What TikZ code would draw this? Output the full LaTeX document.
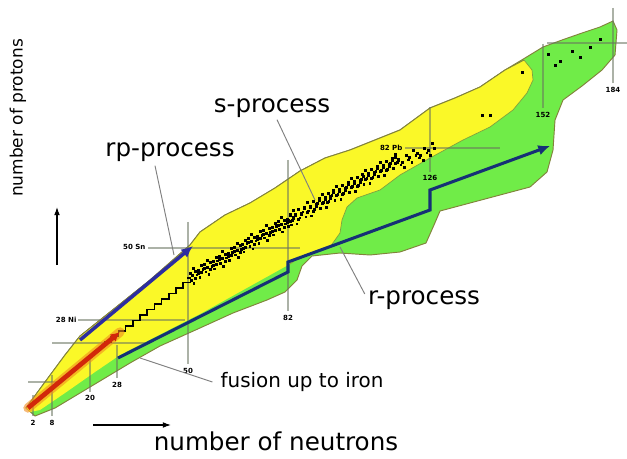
\documentclass[tikz,border=0pt]{standalone}
\usepackage{fontspec}
\setmainfont{DejaVu Sans}
\usetikzlibrary{calc,arrows.meta}
\definecolor{bandyellow}{RGB}{250,248,40}
\definecolor{bandgreen}{RGB}{112,236,72}
\definecolor{rimolive}{RGB}{130,130,60}
\definecolor{pathblue}{RGB}{22,48,118}
\definecolor{rpblue}{RGB}{45,45,160}
\definecolor{fusionred}{RGB}{210,40,10}
\definecolor{fusionglow}{RGB}{240,140,30}
\definecolor{gridgray}{RGB}{105,115,95}
\begin{document}
\begin{tikzpicture}[x=0.03cm,y=-0.03cm,
  biglabel/.style={font=\fontsize{21}{24}\selectfont, inner sep=0},
  smalllabel/.style={font=\fontsize{17}{20}\selectfont, inner sep=0},
  axislabel/.style={font=\fontsize{14.5}{17}\selectfont, inner sep=0},
  magic/.style={font=\bfseries\fontsize{6}{7}\selectfont, inner sep=0.3pt},
  gridline/.style={gridgray, line width=2.4, opacity=0.55},
  leader/.style={gray, line width=0.8},
  axisarrow/.style={black, line width=1, -{Latex[length=7pt,width=5pt]}}]
\useasboundingbox (0,0) rectangle (627,459);
\fill[white] (0,0) rectangle (627,459);

% outer band (green)
\filldraw[fill=bandgreen, draw=rimolive, line width=0.8]
 (26,408) -- (45,382) -- (65,355) -- (80,336) -- (150,280) -- (190,245) -- (200,232)
 -- (225,215) -- (250,203) -- (275,188) -- (300,171) -- (325,158) -- (350,150)
 -- (375,140) -- (400,130) -- (430,108) -- (455,98) -- (480,87) -- (505,70)
 -- (525,58) -- (543,47) -- (562,40) -- (582,33) -- (600,27) -- (613,21)
 -- (617,30) -- (615,55) -- (602,70) -- (582,86) -- (563,100) -- (555,120)
 -- (553,150) -- (547,172) -- (530,187) -- (500,195) -- (470,203) -- (440,211)
 -- (434,225) -- (426,243) -- (400,252) -- (370,255) -- (340,253) -- (312,256)
 -- (302,266) -- (297,280) -- (285,292) -- (267,300) -- (233,313) -- (200,328)
 -- (160,346) -- (130,363) -- (105,378) -- (80,393) -- (55,408) -- (35,416) -- cycle;

% yellow band
\fill[bandyellow]
 (26,408) -- (45,382) -- (65,355) -- (80,336) -- (150,280) -- (190,245) -- (200,232)
 -- (225,215) -- (250,203) -- (275,188) -- (300,171) -- (325,158) -- (350,150)
 -- (375,140) -- (400,130) -- (430,108) -- (455,98) -- (480,87) -- (505,70)
 -- (524,60) -- (532,70) -- (533,80) -- (527,93) -- (513,110) -- (490,127)
 -- (463,140) -- (430,158) -- (400,175) -- (380,190) -- (357,198) -- (347,207)
 -- (342,220) -- (340,233) -- (330,247) -- (300,257) -- (290,264) -- (200,314)
 -- (120,355) -- (95,372) -- (65,393) -- (40,410) -- (30,412) -- cycle;
\draw[rimolive, line width=0.8]
 (26,408) -- (45,382) -- (65,355) -- (80,336) -- (150,280) -- (190,245) -- (200,232)
 -- (225,215) -- (250,203) -- (275,188) -- (300,171) -- (325,158) -- (350,150)
 -- (375,140) -- (400,130) -- (430,108) -- (455,98) -- (480,87) -- (505,70)
 -- (524,60);
\draw[rimolive!70!bandgreen, line width=0.6]
 (524,60) -- (532,70) -- (533,80) -- (527,93) -- (513,110) -- (490,127)
 -- (463,140) -- (430,158) -- (400,175) -- (380,190) -- (357,198) -- (347,207)
 -- (342,220) -- (340,233) -- (330,247) -- (300,257) -- (290,264);

% magic-number grid lines
\draw[gridline] (405,148) -- (500,148);
\draw[gridline] (148,248) -- (300,248);
\draw[gridline] (78,320) -- (185,320);
\draw[gridline] (52,343) -- (150,343);
\draw[gridline] (28,382) -- (62,382);
\draw[gridline] (547,43) -- (627,43);
\draw[gridline] (33,395) -- (33,416);
\draw[gridline] (52,375) -- (52,416);
\draw[gridline] (90,355) -- (90,392);
\draw[gridline] (117,345) -- (117,378);
\draw[gridline] (188,222) -- (188,364);
\draw[gridline] (288,160) -- (288,311);
\draw[gridline] (430,107) -- (430,172);
\draw[gridline] (543,44) -- (543,108);
\draw[gridline] (613,8) -- (613,83);

% stability valley: staircase and dots
\draw[black, line width=1.4] (104,342) \foreach \k in {1,...,12}{ -- ++(7.2,0) -- ++(0,-5.4)};
\coordinate (s1) at (190,276);
\coordinate (s2) at (290,218);
\coordinate (s3) at (395,160);
\coordinate (s4) at (432,146);
\foreach \i in {0,...,34}{
  \pgfmathsetmacro\jy{(mod(\i*7,5)-2)*2.2}
  \fill[black] ($(s1)!\i/34!(s2)$) ++(-1.5,\jy) rectangle ++(3,3);
  \fill[black] ($(s1)!\i/34!(s2)$) ++(1.5,{\jy-4.5}) rectangle ++(3,3);
  \fill[black] ($(s1)!\i/34!(s2)$) ++(-3,{\jy+5}) rectangle ++(2.6,2.6);
}
\foreach \i in {0,...,36}{
  \pgfmathsetmacro\jy{(mod(\i*3,5)-2)*2.2}
  \fill[black] ($(s2)!\i/36!(s3)$) ++(-1.5,\jy) rectangle ++(3,3);
  \fill[black] ($(s2)!\i/36!(s3)$) ++(1.5,{\jy-4.5}) rectangle ++(3,3);
  \fill[black] ($(s2)!\i/36!(s3)$) ++(-3,{\jy+5}) rectangle ++(2.6,2.6);
}
\foreach \i in {0,...,10}{
  \pgfmathsetmacro\jy{(mod(\i*7,5)-2)*2}
  \fill[black] ($(s3)!\i/10!(s4)$) ++(-1.5,\jy) rectangle ++(3,3);
  \fill[black] ($(s3)!\i/10!(s4)$) ++(1,{\jy+5}) rectangle ++(2.6,2.6);
}
\foreach \p in {(482,116),(490,116),(522,73),(548,55),(560,62),(572,52),(580,58),(555,66),(590,48),(600,40)}{
  \fill[black] \p ++(-1.5,-1.5) rectangle ++(3,3);
}

% process paths
\coordinate (f0) at (28,408);
\coordinate (f1) at (120,332);
\draw[fusionglow, line width=8, opacity=0.6, line cap=round] (f0) -- (f1);
\draw[fusionred, line width=4, -{Latex[length=8pt,width=8pt]}] (f0) -- (f1);

\coordinate (rp0) at (80,340);
\coordinate (rp1) at (193,246);
\draw[rpblue, line width=3, -{Latex[length=10pt,width=9pt]}] (rp0) -- (rp1);

\coordinate (r0) at (118,358);
\coordinate (r1) at (288,272);
\coordinate (r2) at (288,262);
\coordinate (r3) at (430,210);
\coordinate (r4) at (430,190);
\coordinate (r5) at (550,146);
\draw[pathblue, line width=2.6, -{Latex[length=10pt,width=9pt]}] (r0) -- (r1) -- (r2) -- (r3) -- (r4) -- (r5);

% magic-number labels
\node[magic] (n2) at (33,423) {2};
\node[magic] (n8) at (52,423) {8};
\node[magic] (n20) at (90,398) {20};
\node[magic] (n28) at (117,385) {28};
\node[magic] (n50) at (188,371) {50};
\node[magic] (n82) at (288,318) {82};
\node[magic] (n126) at (430,178) {126};
\node[magic] (n152) at (543,115) {152};
\node[magic] (n184) at (613,90) {184};
\node[magic, anchor=east] (z28) at (77,320) {28 Ni};
\node[magic, anchor=east] (z50) at (146,247) {50 Sn};
\node[magic, anchor=east] (z82) at (403,148) {82 Pb};

% process labels and leaders
\node[biglabel] (slab) at (272,108) {s-process};
\node[biglabel] (rplab) at (170,152) {rp-process};
\node[biglabel] (rlab) at (424,300) {r-process};
\node[smalllabel] (flab) at (302,382) {fusion up to iron};
\coordinate (sEnd) at (315,200);
\coordinate (rpEnd) at (174,255);
\coordinate (rEnd) at (340,247);
\coordinate (fEnd) at (140,358);
\draw[leader] ($(slab.south)+(5,2)$) -- (sEnd);
\draw[leader] ($(rplab.south)+(-15,4)$) -- (rpEnd);
\draw[leader] ($(rlab.west)+(-3,-6)$) -- (rEnd);
\draw[leader] ($(flab.west)+(-8,0)$) -- (fEnd);

% axes
\node[axislabel, rotate=90] (ylab) at (18,118) {number of protons};
\node[biglabel] (xlab) at (276,441) {number of neutrons};
\coordinate (ya) at (57,265);
\coordinate (yb) at (57,207);
\coordinate (xa) at (93,425);
\coordinate (xb) at (171,425);
\draw[axisarrow] (ya) -- (yb);
\draw[axisarrow] (xa) -- (xb);
\end{tikzpicture}
\end{document}
